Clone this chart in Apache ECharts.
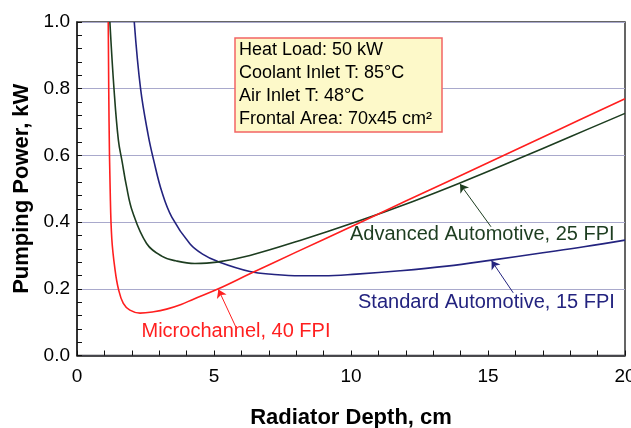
<!DOCTYPE html>
<html>
<head>
<meta charset="utf-8">
<script src="https://cdn.jsdelivr.net/npm/echarts@6/dist/echarts.min.js"></script>
<style>
  html, body { margin: 0; padding: 0; background: #fff; }
  #chart { width: 631px; height: 428px; }
</style>
</head>
<body>
<div id="chart"></div>
<script>
// data: [radiator depth cm, pumping power kW]
const microchannel = [
  [1.14, 1.0], [1.17, 0.7], [1.21, 0.5], [1.27, 0.35], [1.39, 0.256], [1.51, 0.2],
  [1.69, 0.156], [1.93, 0.136], [2.3, 0.127], [2.8, 0.131], [3.27, 0.139], [3.8, 0.153],
  [4.25, 0.169], [5.16, 0.2], [6.31, 0.245], [8, 0.31], [10, 0.386], [12, 0.463],
  [15, 0.578], [17.5, 0.674], [20, 0.77]
]
const advanced = [
  [1.2, 1.0], [1.35, 0.8], [1.51, 0.646], [1.65, 0.58], [1.8, 0.51], [2.03, 0.43],
  [2.54, 0.336], [3.09, 0.298], [3.6, 0.284], [4.3, 0.276], [5.1, 0.28], [6.31, 0.3],
  [8.14, 0.345], [10.2, 0.401], [12.26, 0.462], [14, 0.518], [16, 0.586], [18, 0.656],
  [20, 0.726]
]
const standard = [
  [2.09, 1.0], [2.32, 0.8], [2.6, 0.66], [2.8, 0.585], [3.1, 0.49], [3.46, 0.415],
  [4.12, 0.335], [4.6, 0.303], [5.1, 0.283], [6.31, 0.252], [7.2, 0.243], [8.14, 0.239],
  [9, 0.239], [10.2, 0.244], [11.79, 0.254], [13.5, 0.268], [15.13, 0.286], [17, 0.308],
  [18.5, 0.326], [20, 0.346]
]
// arrows from label to curve: [tail, head]
const arrowMicro = [[5.8, 0.085], [5.16, 0.198]]
const arrowAdvanced = [[15.11, 0.386], [13.98, 0.514]]
const arrowStandard = [[15.92, 0.188], [15.13, 0.284]]

const infoLines = ['Heat Load: 50 kW', 'Coolant Inlet T: 85°C', 'Air Inlet T: 48°C', 'Frontal Area: 70x45 cm²']

const RED = '#ff1f1f'
const GREEN = '#1d3d20'
const BLUE = '#23237f'
const font = "'Liberation Sans', Arial, sans-serif"

function arrow (pts, color) {
  return {
    silent: true,
    animation: false,
    symbol: ['none', 'arrow'],
    symbolSize: 8,
    label: { show: false },
    lineStyle: { color: color, width: 1, type: 'solid' },
    data: [[{ coord: pts[0] }, { coord: pts[1] }]]
  }
}

function curve (name, data, color, pts) {
  return {
    name: name,
    type: 'line',
    data: data,
    showSymbol: false,
    smooth: 0.4,
    clip: true,
    lineStyle: { color: color, width: 1.6 },
    markLine: arrow(pts, color)
  }
}

const tickStyle = { color: '#111', width: 1 }

const myChart = echarts.init(document.getElementById('chart'))
const option = {
  animation: false,
  grid: {
    left: 77, right: 6, top: 22, bottom: 72.5,
    outerBoundsMode: 'none', containLabel: false,
    show: true, borderColor: '#333', borderWidth: 1.5, backgroundColor: 'transparent'
  },
  xAxis: {
    type: 'value', min: 0, max: 20, interval: 5,
    name: 'Radiator Depth, cm', nameLocation: 'middle', nameGap: 51,
    nameTextStyle: { fontFamily: font, fontWeight: 'bold', fontSize: 22, color: '#000' },
    axisLine: { show: true, lineStyle: { color: '#222', width: 1.5 } },
    axisTick: { show: true, inside: true, length: 5, lineStyle: tickStyle },
    minorTick: { show: true, splitNumber: 5, length: 5, lineStyle: tickStyle },
    axisLabel: { fontFamily: font, fontSize: 19, color: '#000', margin: 12 },
    splitLine: { show: false }
  },
  yAxis: {
    type: 'value', min: 0, max: 1, interval: 0.2,
    name: 'Pumping Power, kW', nameLocation: 'middle', nameGap: 40,
    nameTextStyle: { fontFamily: font, fontWeight: 'bold', fontSize: 22, color: '#000' },
    axisLine: { show: true, lineStyle: { color: '#222', width: 1.5 } },
    axisTick: { show: true, inside: true, length: 5, lineStyle: tickStyle },
    minorTick: { show: true, splitNumber: 5, length: 5, lineStyle: tickStyle },
    axisLabel: { fontFamily: font, fontSize: 19, color: '#000', margin: 7,
      formatter: v => v.toFixed(1) },
    splitLine: { show: true, lineStyle: { color: '#a9a9cc', width: 1 } }
  },
  series: [
    curve('Standard Automotive, 15 FPI', standard, BLUE, arrowStandard),
    curve('Advanced Automotive, 25 FPI', advanced, GREEN, arrowAdvanced),
    curve('Microchannel, 40 FPI', microchannel, RED, arrowMicro)
  ],
  graphic: [
    {
      type: 'rect', shape: { x: 235, y: 38, width: 207, height: 94 },
      style: { fill: '#fdf9c9', stroke: '#f26464', lineWidth: 1.5 }, z: 100
    },
    ...infoLines.map((t, i) => ({
      type: 'text', z: 101,
      style: { text: t, x: 239, y: 50 + i * 22.9, font: '18px ' + font, fill: '#000',
        textAlign: 'left', textVerticalAlign: 'middle' }
    })),
    {
      type: 'text', z: 101,
      style: { text: 'Advanced Automotive, 25 FPI', x: 350, y: 234.5, font: '20px ' + font,
        fill: GREEN, textAlign: 'left', textVerticalAlign: 'middle' }
    },
    {
      type: 'text', z: 101,
      style: { text: 'Standard Automotive, 15 FPI', x: 358, y: 302.5, font: '20px ' + font,
        fill: BLUE, textAlign: 'left', textVerticalAlign: 'middle' }
    },
    {
      type: 'text', z: 101,
      style: { text: 'Microchannel, 40 FPI', x: 141.5, y: 331.5, font: '20px ' + font,
        fill: RED, textAlign: 'left', textVerticalAlign: 'middle' }
    }
  ]
}
myChart.setOption(option)
</script>
</body>
</html>
